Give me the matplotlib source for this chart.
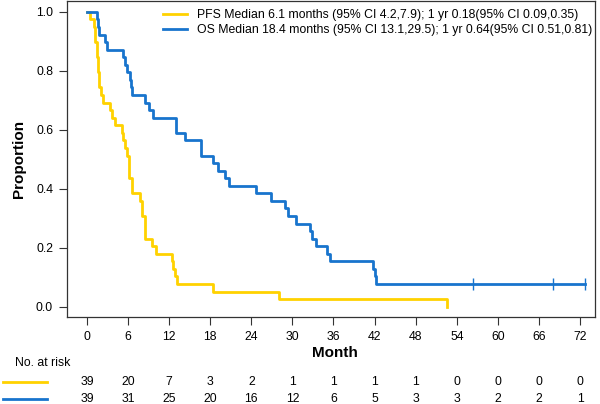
import matplotlib
matplotlib.use("Agg")
import matplotlib.pyplot as plt
import matplotlib.transforms as mtransforms
from matplotlib.lines import Line2D

plt.rcParams['font.family'] = ['Liberation Sans', 'DejaVu Sans']

# %% data (number still event-free out of 39)
n_total = 39

pfs_time = [0, 0.4, 1.0, 1.2, 1.4, 1.6, 1.8, 2.0, 2.4, 3.3, 3.7, 4.1, 5.1, 5.3, 5.6,
            5.9, 6.1, 6.2, 6.5, 7.7, 8.0, 8.4, 9.5, 10.1, 12.4, 12.6, 12.8, 13.2,
            18.4, 28.1, 52.6]
pfs_left = [39, 38, 37, 35, 33, 31, 29, 28, 27, 26, 25, 24, 23, 22, 21,
            20, 19, 17, 15, 14, 12, 9, 8, 7, 6, 5, 4, 3,
            2, 1, 0]

os_time = [0, 1.4, 1.66, 1.8, 2.63, 2.9, 5.3, 5.55, 5.9, 6.3, 6.45, 6.6, 8.5, 9.0,
           9.6, 13.0, 14.3, 16.6, 18.4, 19.2, 20.2, 20.7, 24.7, 26.9, 28.9, 29.4,
           30.5, 32.6, 32.8, 33.5, 35.1, 35.5, 41.8, 42.06, 42.2, 72.7]
os_left = [39, 38, 37, 36, 35, 34, 33, 32, 31, 30, 29, 28, 27, 26,
           25, 23, 22, 20, 19, 18, 17, 16, 15, 14, 13, 12,
           11, 10, 9, 8, 7, 6, 5, 4, 3, 3]
os_censor = [56.3, 68.0, 72.7]

risk_months = [0, 6, 12, 18, 24, 30, 36, 42, 48, 54, 60, 66, 72]
pfs_risk = [39, 20, 7, 3, 2, 1, 1, 1, 1, 0, 0, 0, 0]
os_risk = [39, 31, 25, 20, 16, 12, 6, 5, 3, 3, 2, 2, 1]

pfs_label = "PFS Median 6.1 months (95% CI 4.2,7.9); 1 yr 0.18(95% CI 0.09,0.35)"
os_label = "OS Median 18.4 months (95% CI 13.1,29.5); 1 yr 0.64(95% CI 0.51,0.81)"

yellow = "#FFD200"
blue = "#1874CD"
fs = 8.8

# %% plot
fig = plt.figure(figsize=(6, 4.04), dpi=100)
ax = fig.add_axes([67/600, 1 - 317/404, (595-67)/600, 316/404])

pfs_s = [v / n_total for v in pfs_left]
os_s = [v / n_total for v in os_left]
ax.step(pfs_time, pfs_s, where='post', color=yellow, lw=2.0, label=pfs_label)
ax.step(os_time, os_s, where='post', color=blue, lw=2.0, label=os_label)
ax.plot(os_censor, [os_s[-1]] * len(os_censor), ls='none', marker='|',
        ms=9, mew=1.0, color=blue)

ax.set_xlim(-2.92, 74.19)
ax.set_ylim(-0.035, 1.037)
ax.set_xticks(risk_months)
ax.set_yticks([0, 0.2, 0.4, 0.6, 0.8, 1.0])
ax.set_yticklabels(["0.0", "0.2", "0.4", "0.6", "0.8", "1.0"])
ax.tick_params(direction='out', length=6, width=0.8, color='#333333',
               labelsize=fs, pad=4)
for sp in ax.spines.values():
    sp.set_linewidth(0.9)
    sp.set_color('#333333')

ax.set_ylabel("Proportion", fontsize=11, fontweight='bold', labelpad=7)

leg = ax.legend(loc='upper left', bbox_to_anchor=(163/600, 1 - 9/404),
                bbox_transform=fig.transFigure, frameon=False, fontsize=fs,
                handlelength=2.0, handletextpad=0.8, borderpad=0,
                borderaxespad=0, labelspacing=0.25)

fig.text(335/600, 1 - 353/404, "Month", ha='center', va='center',
         fontsize=11, fontweight='bold')

# number at risk table
trans = mtransforms.blended_transform_factory(ax.transData, fig.transFigure)
fig.text(15/600, 1 - 363/404, "No. at risk", ha='left', va='center', fontsize=fs)
for row_y, counts, col in [(382, pfs_risk, yellow), (399, os_risk, blue)]:
    yf = 1 - row_y / 404
    fig.add_artist(Line2D([3/600, 47/600], [yf, yf], color=col, lw=2.0))
    for m, c in zip(risk_months, counts):
        fig.text(m, yf, str(c), transform=trans, ha='center', va='center',
                 fontsize=fs)

fig.savefig("out.png", dpi=100)
